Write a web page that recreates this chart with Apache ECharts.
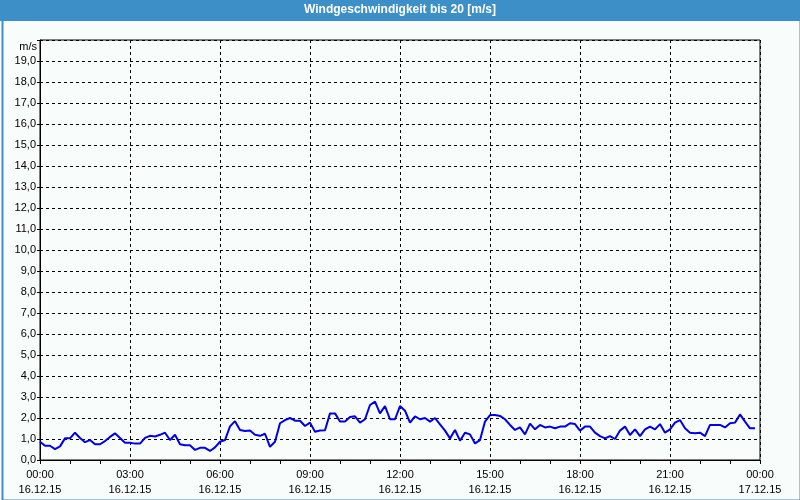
<!DOCTYPE html>
<html>
<head>
<meta charset="utf-8">
<script src="https://cdn.jsdelivr.net/npm/echarts@6/dist/echarts.min.js"></script>
<style>
html,body{margin:0;padding:0;background:#f8fcfa;}
#c{width:800px;height:500px;}
</style>
</head>
<body>
<div id="c"></div>
<script>
// Chart data
var chartTitle = 'Windgeschwindigkeit bis 20 [m/s]';
var unitLabel = 'm/s';
var startDate = '16.12.15';
var endDate = '17.12.15';
var sampleStepMinutes = 10; // one reading every 10 minutes, starting 00:00
var windSpeed = [
  0.87,0.68,0.68,0.52,0.65,1.03,1.03,1.30,1.05,0.85,
  0.95,0.75,0.75,0.90,1.10,1.27,1.05,0.82,0.82,0.78,
  0.78,1.05,1.15,1.12,1.20,1.30,0.95,1.20,0.75,0.70,
  0.70,0.48,0.58,0.58,0.43,0.60,0.87,0.95,1.60,1.85,
  1.43,1.38,1.40,1.20,1.15,1.25,0.63,0.87,1.75,1.90,
  2.00,1.87,1.87,1.62,1.78,1.35,1.40,1.42,2.22,2.22,
  1.83,1.83,2.05,2.08,1.78,1.94,2.62,2.78,2.22,2.57,
  1.94,1.94,2.57,2.35,1.78,2.08,1.94,2.00,1.83,2.00,
  1.70,1.40,1.03,1.43,0.92,1.30,1.22,0.79,0.95,1.83,
  2.14,2.14,2.10,1.94,1.67,1.43,1.55,1.22,1.73,1.46,
  1.67,1.55,1.59,1.51,1.59,1.59,1.75,1.71,1.40,1.59,
  1.59,1.30,1.14,1.03,1.14,1.00,1.40,1.59,1.19,1.46,
  1.14,1.46,1.59,1.46,1.71,1.30,1.46,1.78,1.90,1.51,
  1.30,1.27,1.30,1.14,1.67,1.67,1.67,1.55,1.75,1.78,
  2.17,1.83,1.51,1.51
];

var seriesData = windSpeed.map(function (v, i) { return [i * sampleStepMinutes, v]; });

function pad(n){ return (n < 10 ? '0' : '') + n; }

var chart = echarts.init(document.getElementById('c'), null, {renderer: 'canvas'});
var font = 'Liberation Sans';
chart.setOption({
  backgroundColor: '#f8fcfa',
  animation: false,
  graphic: [
    {type: 'rect', left: 0, top: 0, shape: {width: 800, height: 21}, style: {fill: '#3d90c7'}, z: 0},
    {type: 'rect', left: 0, top: 0, shape: {x: 1, y: 1, width: 798, height: 498}, style: {fill: 'none', stroke: '#3d90c7', lineWidth: 2}, z: 0},
    {type: 'text', left: 'center', top: 4, style: {text: chartTitle, fill: '#ffffff', font: 'bold 12px ' + font}, z: 1},
    {type: 'text', right: 763, top: 41, style: {text: unitLabel, fill: '#000000', font: '11px ' + font, textAlign: 'right'}, z: 1}
  ],
  grid: {left: 40, right: 40, top: 40, bottom: 40, show: true, borderColor: '#000', borderWidth: 1, backgroundColor: 'transparent'},
  xAxis: {
    type: 'value', min: 0, max: 1440, interval: 180,
    axisLine: {show: true, lineStyle: {color: '#000', width: 1}},
    axisTick: {show: true, length: 4, lineStyle: {color: '#000'}},
    minorTick: {show: true, splitNumber: 3, length: 4, lineStyle: {color: '#000'}},
    splitLine: {show: true, lineStyle: {color: '#000', type: [3, 3], width: 1}},
    axisLabel: {
      color: '#000', fontFamily: font, fontSize: 11, lineHeight: 15, margin: 7,
      formatter: function (v) {
        var h = Math.floor(v / 60) % 24, m = v % 60;
        return pad(h) + ':' + pad(m) + '\n' + (v >= 1440 ? endDate : startDate);
      }
    }
  },
  yAxis: {
    type: 'value', min: 0, max: 20, interval: 1,
    axisLine: {show: true, lineStyle: {color: '#000', width: 1}},
    axisTick: {show: true, length: 6, lineStyle: {color: '#000', type: [3, 3]}},
    splitLine: {show: true, lineStyle: {color: '#000', type: [3, 3], width: 1}},
    axisLabel: {
      color: '#000', fontFamily: font, fontSize: 11, margin: 4,
      formatter: function (v) { return v >= 20 ? '' : v.toFixed(1).replace('.', ','); }
    }
  },
  series: [{
    type: 'line', data: seriesData, showSymbol: false, smooth: false,
    lineStyle: {color: '#0000e6', width: 2}, itemStyle: {color: '#0000e6'}
  }]
});
</script>
</body>
</html>
